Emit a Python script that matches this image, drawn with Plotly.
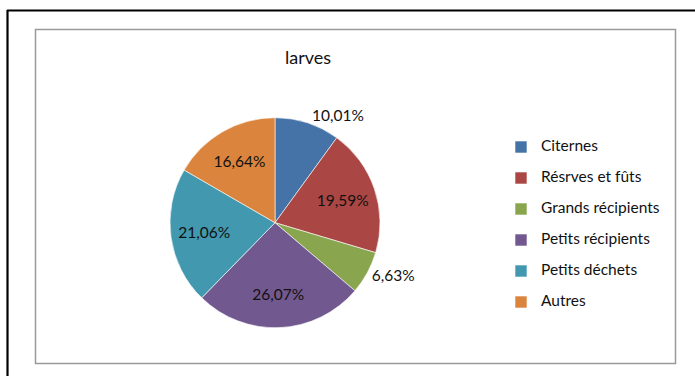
import plotly.graph_objects as go

W, H = 695, 376

categories = ["Citernes", "Résrves et fûts", "Grands récipients",
              "Petits récipients", "Petits déchets", "Autres"]
values = [10.01, 19.59, 6.63, 26.07, 21.06, 16.64]
label_text = ["10,01%", "19,59%", "6,63%", "26,07%", "21,06%", "16,64%"]
label_pos = ["outside", "inside", "outside", "inside", "inside", "inside"]
colors = ["#4572A7", "#AA4643", "#89A54E", "#71588F", "#4198AF", "#DB843D"]

FONT = "Lato, Carlito, Calibri, sans-serif"
TXT = "#111111"

# pie geometry (pixels)
cx, cy, r = 275, 222.7, 105
dom = dict(x=[(cx - r) / W, (cx + r) / W],
           y=[1 - (cy + r) / H, 1 - (cy - r) / H])

legend_labels = [f'<span style="font-size:15.5px">{c}</span><br>&nbsp;'
                 for c in categories]

# slices (no text)
slices = go.Pie(
    labels=legend_labels,
    values=values,
    textinfo="none",
    marker=dict(colors=colors, line=dict(color="white", width=0.6)),
    sort=False,
    direction="clockwise",
    rotation=0,
    hovertext=categories,
    hoverinfo="text+percent",
    domain=dom,
)

# transparent ring trace carrying the data labels (places inside labels
# further out, like the original)
labels_trace = go.Pie(
    labels=legend_labels,
    values=values,
    text=label_text,
    textinfo="text",
    textposition=label_pos,
    insidetextorientation="horizontal",
    textfont=dict(family=FONT, size=15.5, color=TXT),
    marker=dict(colors=["rgba(0,0,0,0)"] * len(values),
                line=dict(width=0)),
    hole=0.36,
    sort=False,
    direction="clockwise",
    rotation=0,
    showlegend=False,
    hoverinfo="skip",
    domain=dom,
)

fig = go.Figure([slices, labels_trace])

fig.update_layout(
    width=W, height=H,
    margin=dict(l=0, r=0, t=0, b=0),
    paper_bgcolor="white",
    plot_bgcolor="white",
    font=dict(family=FONT, color=TXT),
    title=dict(text="larves", x=308 / W, xanchor="center",
               y=1 - 58 / H, yanchor="middle",
               font=dict(family=FONT, size=18, color=TXT)),
    showlegend=True,
    legend=dict(x=501 / W, xanchor="left", y=1 - 133.5 / H, yanchor="top",
                font=dict(family=FONT, size=10.77, color=TXT),
                valign="top",
                bgcolor="rgba(0,0,0,0)",
                traceorder="normal"),
    shapes=[
        # outer black frame (top and left visible)
        dict(type="line", xref="paper", yref="paper",
             x0=7 / W, x1=1.02, y0=1 - 10.5 / H, y1=1 - 10.5 / H,
             line=dict(color="black", width=2.2)),
        dict(type="line", xref="paper", yref="paper",
             x0=7.5 / W, x1=7.5 / W, y0=1 - 10 / H, y1=-0.02,
             line=dict(color="black", width=2.2)),
        # inner grey chart-area frame
        dict(type="rect", xref="paper", yref="paper",
             x0=35.5 / W, x1=675.5 / W, y0=1 - 363.5 / H, y1=1 - 29.5 / H,
             line=dict(color="#9a9a9a", width=1.5)),
    ],
)

fig.write_html("out.html")
